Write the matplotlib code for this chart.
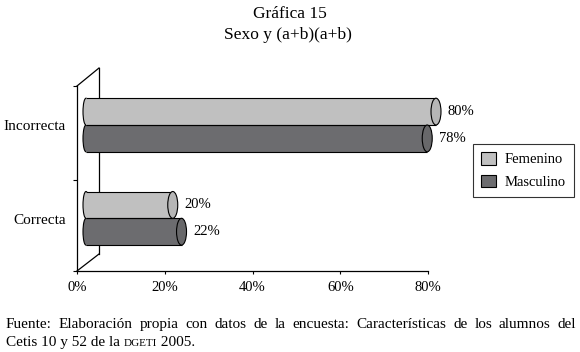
import matplotlib
matplotlib.use('Agg')
import matplotlib.pyplot as plt
from matplotlib.patches import Ellipse, Patch

# dati
categorie = ['Incorrecta', 'Correcta']
femenino = [80, 20]
masculino = [78, 22]
etichette_x = ['0%', '20%', '40%', '60%', '80%']
valori_x = [0, 20, 40, 60, 80]

FONT = 'Liberation Serif'
plt.rcParams['font.family'] = FONT

COL_FEM = '#c0c0c0'
COL_FEM_END = '#b6b6b6'
COL_MAS = '#6c6c6f'
COL_MAS_END = '#68686a'

W, H = 580, 352
fig = plt.figure(figsize=(W / 100, H / 100), dpi=100)

# asse: x in percentuale, y in pixel verso l'alto
ax = fig.add_axes([77 / W, 1 - 271 / H, 351 / W, 203 / H])
ax.set_xlim(0, 80)
ax.set_ylim(0, 203)
px = 80 / 351  # unita' x per pixel

for s in ['top', 'right']:
    ax.spines[s].set_visible(False)
ax.spines['bottom'].set_linewidth(0.9)
ax.spines['left'].set_linewidth(0.9)
ax.spines['left'].set_bounds(0, 185)
ax.set_xticks(valori_x)
ax.set_xticklabels(etichette_x)
ax.set_yticks([0, 91, 185])
ax.set_yticklabels([])
ax.tick_params(axis='x', direction='out', length=2.2, width=0.8, pad=5, labelsize=10.5)
ax.tick_params(axis='y', direction='out', length=2.8, width=0.8)

# parete di fondo (effetto 3D)
dx, dy = 22 * px, 17
ax.plot([dx, dx], [dy, 203], color='black', lw=0.9, clip_on=False, zorder=1)
ax.plot([0, dx], [185, 203], color='black', lw=0.9, clip_on=False, zorder=1)
ax.plot([0, dx], [0, dy], color='black', lw=0.9, clip_on=False, zorder=1)

# cilindri
pos_gruppo = [146, 52.7]
h = 26.8
x0 = 9 * px          # inizio del corpo
w_sx = 6 * px        # larghezza ellisse sinistra
w_dx = 10 * px       # larghezza ellisse destra
fine_off = 8 * px


def cilindro(y, v, col, col_end):
    fine = v + fine_off
    ax.add_patch(Ellipse((x0, y), w_sx, h, facecolor=col, edgecolor='black',
                         lw=0.8, zorder=2, clip_on=False))
    ax.barh(y, fine - x0, height=h, left=x0, color=col, linewidth=0,
            zorder=3, clip_on=False)
    ax.hlines([y - h / 2, y + h / 2], x0, fine, colors='black', lw=0.8,
              zorder=4, clip_on=False)
    ax.add_patch(Ellipse((fine, y), w_dx, h, facecolor=col_end, edgecolor='black',
                         lw=0.8, zorder=5, clip_on=False))
    ax.text(v + 20 * px, y, f'{v}%', ha='left', va='center', fontsize=10.5,
            clip_on=False)


for i, cat in enumerate(categorie):
    yc = pos_gruppo[i]
    cilindro(yc + h / 2, femenino[i], COL_FEM, COL_FEM_END)
    cilindro(yc - h / 2, masculino[i], COL_MAS, COL_MAS_END)
    ax.text(-11 * px, yc - 2, cat, ha='right', va='center', fontsize=11)

# legenda
handles = [Patch(facecolor=COL_FEM, edgecolor='black', lw=0.8),
           Patch(facecolor=COL_MAS, edgecolor='black', lw=0.8)]
leg = fig.legend(handles, ['Femenino', 'Masculino'], loc='center',
                 bbox_to_anchor=(523.5 / W, 1 - 170.5 / H), fontsize=10.5,
                 frameon=True, fancybox=False, edgecolor='black',
                 handlelength=1.0, handleheight=0.9, handletextpad=0.6,
                 labelspacing=0.55, borderpad=0.55, borderaxespad=0)
leg.get_frame().set_linewidth(0.8)

# titolo
fig.text(290 / W, 1 - 14 / H, 'Gráfica 15', ha='center', va='center', fontsize=12.5)
fig.text(288 / W, 1 - 35 / H, 'Sexo y (a+b)(a+b)', ha='center', va='center', fontsize=12.5)

# nota a pie' di pagina, prima riga giustificata
riga1 = ('Fuente: Elaboración propia con datos de la encuesta: '
         'Características de los alumnos del')
fs_nota = 11
renderer = fig.canvas.get_renderer()
parole = riga1.split()
pezzi = [fig.text(0, 0, p, fontsize=fs_nota, va='baseline') for p in parole]
larghezze = [t.get_window_extent(renderer).width for t in pezzi]
x_sx, x_dx = 6, 576
gap = (x_dx - x_sx - sum(larghezze)) / (len(parole) - 1)
x = x_sx
for t, w in zip(pezzi, larghezze):
    t.set_position((x / W, 1 - 328 / H))
    x += w + gap

# seconda riga con DGETI in maiuscoletto
parti = [('Cetis 10 y 52 de la ', fs_nota), ('DGETI', 8), (' 2005.', fs_nota)]
x = x_sx
for s, fs in parti:
    t = fig.text(x / W, 1 - 346 / H, s, fontsize=fs, va='baseline')
    x += t.get_window_extent(renderer).width

fig.savefig('out.png', dpi=100)
